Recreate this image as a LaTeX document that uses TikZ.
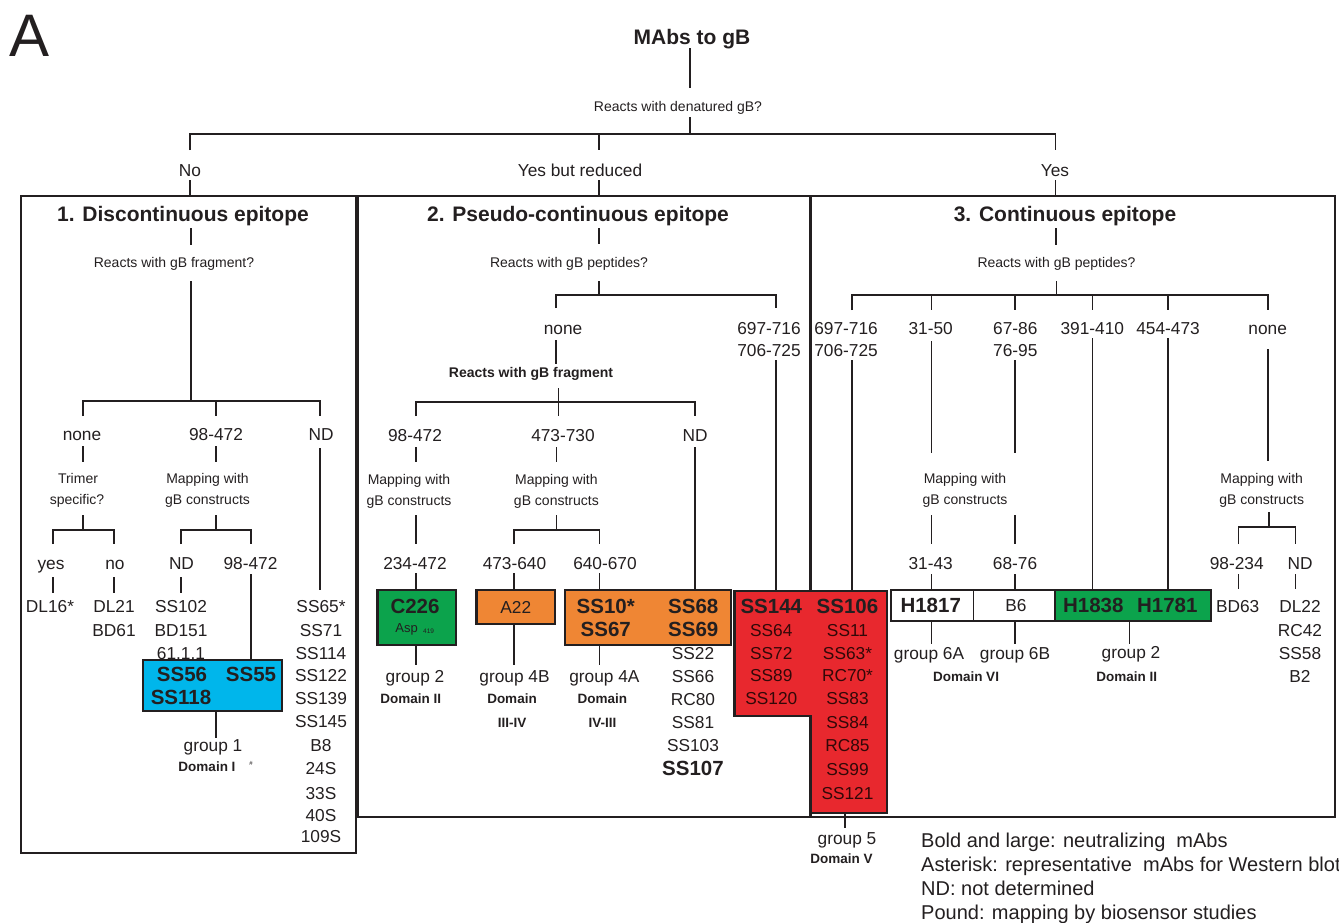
\documentclass[tikz,border=0pt]{standalone}
\usepackage{fontspec}
\setmainfont{Liberation Sans}
\definecolor{ink}{RGB}{35,31,32}
\definecolor{cblue}{RGB}{0,182,235}
\definecolor{cgreen}{RGB}{12,163,76}
\definecolor{corange}{RGB}{239,134,52}
\definecolor{cred}{RGB}{232,40,46}
\definecolor{redink}{RGB}{50,8,8}
\begin{document}
\begin{tikzpicture}[x=1pt,y=-1pt,
 ln/.style={draw=ink,line width=1.2pt},
 bframe/.style={draw=ink,line width=1.3pt},
 cbox/.style={draw=ink,line width=2.3pt},
 lbl/.style={inner sep=0pt,text=ink,font=\fontsize{17.3}{20}\selectfont,text height=12.4pt,text depth=0pt},
 sm/.style={inner sep=0pt,text=ink,font=\fontsize{14}{17}\selectfont,text height=10pt,text depth=0pt},
 bl/.style={inner sep=0pt,text=ink,font=\fontsize{20.5}{24}\selectfont\bfseries,text height=14.7pt,text depth=0pt},
 hdr/.style={inner sep=0pt,text=ink,font=\fontsize{21}{25}\selectfont\bfseries,text height=15pt,text depth=0pt},
 dom/.style={inner sep=0pt,text=ink,font=\fontsize{13.5}{16}\selectfont\bfseries,text height=9.7pt,text depth=0pt},
 leg/.style={inner sep=0pt,text=ink,anchor=west,font=\fontsize{20}{24}\selectfont,text height=14.3pt,text depth=0pt},
]
\useasboundingbox (0,0) rectangle (1339,922);

% ---------- frames ----------
\draw[bframe] (21,196) rectangle (356,853);
\draw[bframe] (358,196) rectangle (809.5,817);
\draw[bframe] (811,196) rectangle (1335,817);

% ---------- top ----------
\node[inner sep=0pt,text=ink,font=\fontsize{60}{60}\selectfont,text height=43pt,text depth=0pt] (lettera) at (29.5,34.5) {A};
\node[hdr] (root) at (692,37) {MAbs to gB};
\node[sm] (q0) at (678,106) {Reacts with denatured gB?};
\node[lbl] (no) at (190,170) {No};
\node[lbl] (ybr) at (580,170) {Yes but reduced};
\node[lbl] (yes) at (1055,170) {Yes};
\node[hdr] (h1) at (183,214) {1. Discontinuous epitope};
\node[hdr] (h2) at (578,214) {2. Pseudo-continuous epitope};
\node[hdr] (h3) at (1065,214) {3. Continuous epitope};

\draw[ln] (690,48) -- (690,88);
\draw[ln] (690,117) -- (690,134);
\draw[ln] (190,150) -- (190,134) -- (1055.5,134) -- (1055.5,150);
\draw[ln] (599,134) -- (599,150);
\foreach \x in {190,599,1055.5} \draw[ln] (\x,180) -- (\x,196);

% ---------- box 1 ----------
\node[sm] (q1) at (174,262) {Reacts with gB fragment?};
\draw[ln] (191,228) -- (191,245);
\draw[ln] (191,281) -- (191,401);
\draw[ln] (83,416) -- (83,401) -- (320,401) -- (320,416);
\draw[ln] (216,401) -- (216,416);
\node[lbl] (b1none) at (82,434) {none};
\node[lbl] (b1r) at (216,434) {98-472};
\node[lbl] (b1nd) at (321,434) {ND};
\draw[ln] (83,446) -- (83,462);
\node[sm] (trim1) at (78,478) {Trimer};
\node[sm] (trim2) at (77,499) {specific?};
\draw[ln] (83,515) -- (83,530);
\draw[ln] (53,544) -- (53,530) -- (114,530) -- (114,544);
\node[lbl] (b1yes) at (51,563) {yes};
\node[lbl] (b1no) at (115,563) {no};
\draw[ln] (53,577) -- (53,593);
\draw[ln] (114,577) -- (114,593);
\node[lbl] (dl16) at (50,606) {DL16*};
\node[lbl] (dl21) at (114,606) {DL21};
\node[lbl] (bd61) at (114,630) {BD61};
\draw[ln] (216,446) -- (216,462);
\node[sm] (b1m1) at (207.5,478) {Mapping with};
\node[sm] (b1m2) at (207.5,499) {gB constructs};
\draw[ln] (216,515) -- (216,530);
\draw[ln] (181,544) -- (181,530) -- (251,530) -- (251,544);
\node[lbl] (b1nd2) at (181.5,563) {ND};
\node[lbl] (b1r2) at (250.5,563) {98-472};
\draw[ln] (181,577) -- (181,593);
\node[lbl] (ss102) at (181,606) {SS102};
\node[lbl] (bd151) at (181,630) {BD151};
\node[lbl] (m611) at (181,653) {61.1.1};
\draw[ln] (251,574) -- (251,660);
\draw[cbox,fill=cblue] (143,660) rectangle (282,711);
\node[bl] (ss56) at (182,674) {SS56};
\node[bl] (ss55) at (251,674) {SS55};
\node[bl] (ss118) at (181,697) {SS118};
\draw[ln] (216,711) -- (216,738);
\node[lbl] (grp1) at (213,745) {group 1};
\node[dom] (dom1) at (207,767) {Domain I};
\node[inner sep=0pt,text=ink,font=\fontsize{6}{7}\selectfont] (pound) at (251,763) {\#};
\draw[ln] (320,448) -- (320,590);
\foreach \t/\y [count=\i] in {SS65*/606.7,SS71/630,SS114/653.3,SS122/675,SS139/698.3,SS145/721.7,B8/745,24S/768.3,33S/793.3,40S/815,109S/836.7}
  \node[lbl] (ndl\i) at (321,\y) {\t};

% ---------- box 2 ----------
\draw[ln] (599,228) -- (599,244);
\node[sm] (q2) at (569,262) {Reacts with gB peptides?};
\draw[ln] (599,281) -- (599,295);
\draw[ln] (556,308) -- (556,295) -- (776,295) -- (776,308);
\node[lbl] (b2none) at (563,328) {none};
\node[lbl] (b2p1) at (769,328) {697-716};
\node[lbl] (b2p2) at (769,350) {706-725};
\draw[ln] (556,340) -- (556,364);
\node[inner sep=0pt,text=ink,font=\fontsize{14}{17}\selectfont\bfseries,text height=10pt,text depth=0pt] (rgf) at (531,372) {Reacts with gB fragment};
\draw[ln] (558.6,388) -- (558.6,416);
\draw[ln] (416,416) -- (416,402) -- (695,402) -- (695,416);
\node[lbl] (b2a) at (415,435) {98-472};
\node[lbl] (b2b) at (563,435) {473-730};
\node[lbl] (b2c) at (695,435) {ND};
\draw[ln] (416,447) -- (416,462);
\node[sm] (b2m1) at (409,479) {Mapping with};
\node[sm] (b2m2) at (409,500) {gB constructs};
\draw[ln] (416,515) -- (416,544);
\node[lbl] (r234) at (415,563) {234-472};
\draw[ln] (416,573) -- (416,590);
\draw[cbox,fill=cgreen] (377.6,590) rectangle (456.3,645);
\node[bl] (c226) at (415,606) {C226};
\node[inner sep=0pt,text=ink,font=\fontsize{13}{15}\selectfont,text height=9.3pt,text depth=0pt] (asp) at (406.6,628) {Asp};
\node[inner sep=0pt,text=ink,font=\fontsize{6.5}{7}\selectfont,text height=4.6pt,text depth=0pt] (n419) at (428.6,631) {419};
\draw[ln] (416,645) -- (416,665);
\node[lbl] (grp2a) at (415,676) {group 2};
\node[dom] (dom2a) at (410.7,699) {Domain II};

\draw[ln] (556.4,447) -- (556.4,462);
\node[sm] (b2m3) at (556.4,479) {Mapping with};
\node[sm] (b2m4) at (556.4,500) {gB constructs};
\draw[ln] (556.4,515) -- (556.4,530);
\draw[ln] (514,544) -- (514,530) -- (599.4,530) -- (599.4,544);
\node[lbl] (r473) at (514.5,563) {473-640};
\node[lbl] (r640) at (605,563) {640-670};
\draw[ln] (514,573) -- (514,590);
\draw[cbox,fill=corange] (476.6,590) rectangle (555,624);
\node[lbl] (a22) at (515.8,607) {A22};
\draw[ln] (514,624) -- (514,665);
\node[lbl] (grp4b) at (514.5,676) {group 4B};
\node[dom] (dom4b) at (512,699) {Domain};
\node[dom] (dom4bb) at (512,722.5) {III-IV};
\draw[ln] (599.4,573) -- (599.4,590);
\draw[ln] (695,447) -- (695,590);
\draw[cbox,fill=corange] (565,590) rectangle (731,645);
\node[bl] (ss10) at (605.8,606) {SS10*};
\node[bl] (ss68) at (693.3,606) {SS68};
\node[bl] (ss67) at (605.8,629) {SS67};
\node[bl] (ss69) at (693.3,629) {SS69};
\draw[ln] (599.4,645) -- (599.4,665);
\node[lbl] (grp4a) at (604.4,676) {group 4A};
\node[dom] (dom4a) at (602.4,699) {Domain};
\node[dom] (dom4aa) at (602.4,722.5) {IV-III};
\foreach \t/\y [count=\i] in {SS22/653,SS66/676,RC80/699,SS81/722,SS103/745}
  \node[lbl] (ndm\i) at (693,\y) {\t};
\node[bl] (ss107) at (693,768) {SS107};
\draw[ln] (776,360) -- (776,591);

% ---------- box 3 ----------
\draw[ln] (1056,228) -- (1056,245);
\node[sm] (q3) at (1056.5,262) {Reacts with gB peptides?};
\draw[ln] (1056.7,281) -- (1056.7,295);
\draw[ln] (852,310) -- (852,295) -- (1268,295) -- (1268,310);
\foreach \x in {931.7,1015,1092.3,1168} \draw[ln] (\x,295) -- (\x,310);
\node[lbl] (c1a) at (846,328) {697-716};
\node[lbl] (c1b) at (846,350) {706-725};
\node[lbl] (c2) at (930.7,328) {31-50};
\node[lbl] (c3a) at (1015.3,328) {67-86};
\node[lbl] (c3b) at (1015.3,350) {76-95};
\node[lbl] (c4) at (1092.3,328) {391-410};
\node[lbl] (c5) at (1168,328) {454-473};
\node[lbl] (c6) at (1267.7,328) {none};
\draw[ln] (852,360) -- (852,591);
\draw[ln] (931.7,341) -- (931.7,453);
\draw[ln] (1015,360) -- (1015,453);
\draw[ln] (1092.3,338) -- (1092.3,590);
\draw[ln] (1168,338) -- (1168,590);
\draw[ln] (1268,349) -- (1268,461);
\node[sm] (b3m1) at (965,478) {Mapping with};
\node[sm] (b3m2) at (965,499) {gB constructs};
\draw[ln] (931.7,515) -- (931.7,544);
\draw[ln] (1015,515) -- (1015,544);
\node[lbl] (r3143) at (930.7,563) {31-43};
\node[lbl] (r6876) at (1015,563) {68-76};
\draw[ln] (931.7,574) -- (931.7,590);
\draw[ln] (1015,574) -- (1015,590);
\draw[draw=ink,line width=2pt,fill=white] (890.7,590) rectangle (1055,620.7);
\draw[draw=ink,line width=1.6pt] (973.3,590) -- (973.3,620.7);
\draw[cbox,fill=cgreen] (1055,590) rectangle (1211,620.7);
\node[bl] (h1817) at (930.7,605) {H1817};
\node[lbl] (b6) at (1016,605) {B6};
\node[bl] (h1838) at (1093.3,605) {H1838};
\node[bl] (h1781) at (1167.3,605) {H1781};
\draw[ln] (931.7,621) -- (931.7,644);
\draw[ln] (1015,621) -- (1015,644);
\draw[ln] (1129.3,621) -- (1129.3,644);
\node[lbl] (g6a) at (929,653) {group 6A};
\node[lbl] (g6b) at (1015,653) {group 6B};
\node[lbl] (g2b) at (1131,652) {group 2};
\node[dom] (d6) at (966,677) {Domain VI};
\node[dom] (d2b) at (1126.7,677) {Domain II};
\node[sm] (b3m3) at (1261.7,478) {Mapping with};
\node[sm] (b3m4) at (1261.7,499) {gB constructs};
\draw[ln] (1269,512) -- (1269,527);
\draw[ln] (1238.3,544) -- (1238.3,527) -- (1295.7,527) -- (1295.7,544);
\node[lbl] (r98234) at (1236.7,563) {98-234};
\node[lbl] (b3nd) at (1300,563) {ND};
\draw[ln] (1238.3,574) -- (1238.3,589);
\draw[ln] (1295.7,574) -- (1295.7,589);
\node[lbl] (bd63) at (1237.7,606) {BD63};
\foreach \t/\y [count=\i] in {DL22/606,RC42/630,SS58/653,B2/676}
  \node[lbl] (ndr\i) at (1300,\y) {\t};

% ---------- red group 5 ----------
\draw[cbox,fill=cred] (734.6,591) -- (887,591) -- (887,813) -- (811,813) -- (811,716) -- (734.6,716) -- cycle;
\node[bl] (ss144) at (771.3,606) {SS144};
\node[bl] (ss106) at (847.5,606) {SS106};
\foreach \t/\y [count=\i] in {SS64/630,SS72/653,SS89/675,SS120/698}
  \node[lbl,text=redink] (rl\i) at (771.3,\y) {\t};
\foreach \t/\y [count=\i] in {SS11/630,SS63*/653,RC70*/675,SS83/698,SS84/722,RC85/745,SS99/769,SS121/793}
  \node[lbl,text=redink] (rr\i) at (847.5,\y) {\t};
\draw[ln] (845,813) -- (845,828);
\node[lbl] (grp5) at (847,838) {group 5};
\node[dom] (dom5) at (841.6,859) {Domain V};

% ---------- legend ----------
\node[leg] (lg1) at (921,840) {Bold and large: neutralizing\ \ mAbs};
\node[leg] (lg2) at (921,864) {Asterisk: representative\ \ mAbs for Western blot};
\node[leg] (lg3) at (921,888) {ND: not determined};
\node[leg] (lg4) at (921,912) {Pound: mapping by biosensor studies};
\end{tikzpicture}
\end{document}
